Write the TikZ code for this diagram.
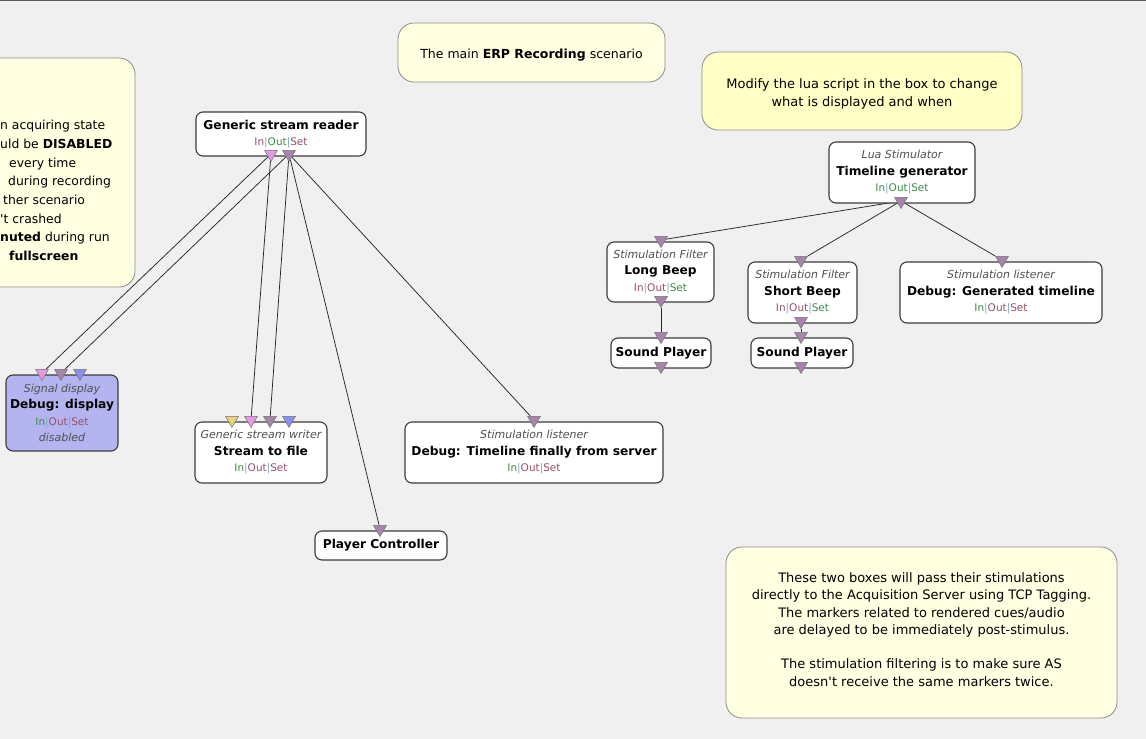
\documentclass[tikz,border=0pt]{standalone}
\usepackage{fontspec}
\setmainfont{DejaVu Sans}
\usetikzlibrary{shapes.geometric, backgrounds, positioning}

\definecolor{canvas}{HTML}{F0F0F0}
\definecolor{notefill}{HTML}{FFFFE2}
\definecolor{notehot}{HTML}{FFFFC6}
\definecolor{notedraw}{HTML}{8C8C8C}
\definecolor{boxdraw}{HTML}{3C3C3C}
\definecolor{dispfill}{HTML}{B4B4F0}
\definecolor{kindgray}{HTML}{505050}
\definecolor{sigpink}{HTML}{E699E2}
\definecolor{stimpurple}{HTML}{A884AC}
\definecolor{chanblue}{HTML}{8A8EEE}
\definecolor{expyellow}{HTML}{E6D27A}
\definecolor{iogreen}{HTML}{3F8A48}
\definecolor{iomauve}{HTML}{95506E}
\definecolor{iosep}{HTML}{7FA8C8}

% In|Out|Set line of a box, one colour per part
\newcommand{\iostr}[3]{{\fontsize{10.5}{16.5}\selectfont
  \textcolor{#1}{In}\textcolor{iosep}{|}\textcolor{#2}{Out}\textcolor{iosep}{|}\textcolor{#3}{Set}}}
\newcommand{\kindof}[1]{{\fontsize{11}{16.5}\selectfont\itshape\color{kindgray}#1}}
\newcommand{\boxname}[1]{{\fontsize{12.2}{16.5}\selectfont\bfseries #1}}

\begin{document}
\begin{tikzpicture}[x=1pt, y=-1pt,
  box/.style={draw=boxdraw, fill=white, rounded corners=7, line width=1.1pt,
    inner sep=0pt, align=center, font=\fontsize{10}{16.5}\selectfont},
  note/.style={draw=notedraw, fill=notefill, rounded corners=16, line width=0.8pt},
  notetext/.style={inner sep=0pt, align=center, font=\fontsize{13}{17.3}\selectfont},
  port/.style={regular polygon, regular polygon sides=3, shape border rotate=180,
    minimum size=15, inner sep=0pt, draw=black!55, line width=0.5pt},
  link/.style={line width=0.75pt, black!85}]

  \useasboundingbox (0,0) rectangle (1146,739);
  \clip (0,0) rectangle (1146,739);

  % comments
  \draw[note] (-150,58) rectangle (135,287);
  \node[anchor=north west, inner sep=0pt, align=left,
    font=\fontsize{12.4}{18.7}\selectfont] (hint) at (0,120)
    {n acquiring state\\
     uld be \textbf{DISABLED}\\
     \hspace*{9pt}every time\\
     \hspace*{8pt}during recording\\
     \hspace*{3pt}ther scenario\\
     \textquotesingle t crashed\\
     \textbf{nuted} during run\\
     \hspace*{9pt}\textbf{fullscreen}};

  \draw[note] (398,23) rectangle (665,82);
  \node[notetext, font=\fontsize{12.5}{17.3}\selectfont] (title) at (531.5,55.5)
    {The main \textbf{ERP Recording} scenario};

  \draw[note, fill=notehot] (702,52) rectangle (1022,130);
  \node[notetext] (luanote) at (862,94)
    {Modify the lua script in the box to change\\what is displayed and when};

  \draw[note] (726,547) rectangle (1117,718);
  \node[notetext] (tcpnote) at (921.5,629.5)
    {These two boxes will pass their stimulations\\
     directly to the Acquisition Server using TCP Tagging.\\
     The markers related to rendered cues/audio\\
     are delayed to be immediately post-stimulus.\\[17.3pt]
     The stimulation filtering is to make sure AS\\
     doesn\textquotesingle t receive the same markers twice.};

  % recording side
  \node[box, minimum width=170, minimum height=44] (reader) at (281,134)
    {\boxname{Generic stream reader}\\\iostr{iomauve}{iogreen}{iomauve}};
  \node[box, fill=dispfill, draw=boxdraw, minimum width=112, minimum height=76] (disp) at (62,413)
    {\kindof{Signal display}\\\boxname{Debug: display}\\\iostr{iogreen}{iomauve}{iomauve}\\\kindof{disabled}};
  \node[box, minimum width=132, minimum height=61] (writer) at (261,452.5)
    {\kindof{Generic stream writer}\\\boxname{Stream to file}\\\iostr{iogreen}{iomauve}{iomauve}};
  \node[box, minimum width=132, minimum height=29] (ctrl) at (381,545.5)
    {\boxname{Player Controller}};
  \node[box, minimum width=258, minimum height=61] (final) at (534,452.5)
    {\kindof{Stimulation listener}\\\boxname{Debug: Timeline finally from server}\\\iostr{iogreen}{iomauve}{iomauve}};

  % timeline side
  \node[box, minimum width=146, minimum height=61] (gen) at (902,172.5)
    {\kindof{Lua Stimulator}\\\boxname{Timeline generator}\\\iostr{iogreen}{iogreen}{iogreen}};
  \node[box, minimum width=107, minimum height=60] (long) at (660.5,272)
    {\kindof{Stimulation Filter}\\\boxname{Long Beep}\\\iostr{iomauve}{iomauve}{iogreen}};
  \node[box, minimum width=109, minimum height=61] (short) at (802.5,292.5)
    {\kindof{Stimulation Filter}\\\boxname{Short Beep}\\\iostr{iomauve}{iomauve}{iogreen}};
  \node[box, minimum width=202, minimum height=61] (gentl) at (1001,292.5)
    {\kindof{Stimulation listener}\\\boxname{Debug: Generated timeline}\\\iostr{iogreen}{iomauve}{iomauve}};
  \node[box, minimum width=100, minimum height=30] (sndA) at (661,353)
    {\boxname{Sound Player}};
  \node[box, minimum width=102, minimum height=30] (sndB) at (802,353)
    {\boxname{Sound Player}};

  % ports
  \node[port, fill=sigpink] (reader-o1) at (271,154) {};
  \node[port, fill=stimpurple] (reader-o2) at (289,154) {};
  \node[port, fill=sigpink] (disp-i1) at (42,373) {};
  \node[port, fill=stimpurple] (disp-i2) at (61,373) {};
  \node[port, fill=chanblue] (disp-i3) at (80,373) {};
  \node[port, fill=expyellow] (writer-i1) at (232,420) {};
  \node[port, fill=sigpink] (writer-i2) at (251,420) {};
  \node[port, fill=stimpurple] (writer-i3) at (270,420) {};
  \node[port, fill=chanblue] (writer-i4) at (289,420) {};
  \node[port, fill=stimpurple] (ctrl-i1) at (380,529) {};
  \node[port, fill=stimpurple] (final-i1) at (534,420) {};
  \node[port, fill=stimpurple] (gen-o1) at (901,201) {};
  \node[port, fill=stimpurple] (long-i1) at (661,240) {};
  \node[port, fill=stimpurple] (long-o1) at (661,300) {};
  \node[port, fill=stimpurple] (short-i1) at (801,260) {};
  \node[port, fill=stimpurple] (short-o1) at (801,321) {};
  \node[port, fill=stimpurple] (gentl-i1) at (1002,260) {};
  \node[port, fill=stimpurple] (sndA-i1) at (661,336) {};
  \node[port, fill=stimpurple] (sndA-o1) at (661,366) {};
  \node[port, fill=stimpurple] (sndB-i1) at (801,336) {};
  \node[port, fill=stimpurple] (sndB-o1) at (801,366) {};

  \begin{scope}[on background layer]
    \fill[canvas] (0,0) rectangle (1146,739);
    \draw[black!65, line width=1pt] (0,0.5) -- (1146,0.5);
    % links
    \draw[link] (reader-o1) -- (disp-i1);
    \draw[link] (reader-o2) -- (disp-i2);
    \draw[link] (reader-o1) -- (writer-i2);
    \draw[link] (reader-o2) -- (writer-i3);
    \draw[link] (reader-o2) -- (ctrl-i1);
    \draw[link] (reader-o2) -- (final-i1);
    \draw[link] (gen-o1) -- (long-i1);
    \draw[link] (gen-o1) -- (short-i1);
    \draw[link] (gen-o1) -- (gentl-i1);
    \draw[link] (long-o1) -- (sndA-i1);
    \draw[link] (short-o1) -- (sndB-i1);
  \end{scope}
\end{tikzpicture}
\end{document}
